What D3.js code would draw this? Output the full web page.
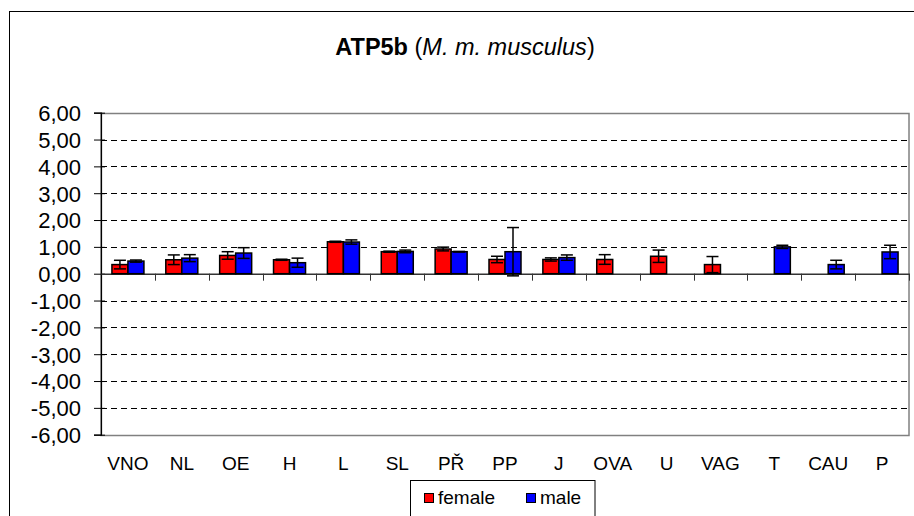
<!DOCTYPE html>
<html><head><meta charset="utf-8">
<script src="https://cdn.jsdelivr.net/npm/d3@7/dist/d3.min.js"></script>
<style>
html,body{margin:0;padding:0;background:#fff;}
svg{display:block;}
text{font-family:Arial,"Liberation Sans",sans-serif;fill:#000;}
</style></head>
<body>
<svg id="chart" width="914" height="516"></svg>
<script>
const categories = ["VNO","NL","OE","H","L","SL","PŘ","PP","J","OVA","U","VAG","T","CAU","P"];
const female    = [0.34,0.52,0.68,0.52,1.19,0.82,0.92,0.53,0.53,0.53,0.65,0.34,null,null,null];
const femaleErr = [0.16,0.18,0.14,0.02,0.02,0.02,0.07,0.12,0.06,0.18,0.23,0.30,null,null,null];
const male      = [0.47,0.58,0.77,0.41,1.18,0.83,0.82,0.82,0.60,null,null,null,1.00,0.34,0.81];
const maleErr   = [0.04,0.13,0.20,0.17,0.08,0.05,0.01,0.90,0.10,null,null,null,0.06,0.16,0.25];
const yTicks = [-6,-5,-4,-3,-2,-1,0,1,2,3,4,5,6];
const seriesNames = ["female","male"];
const seriesColors = ["#FF0000","#0000FF"];

const svg = d3.select("#chart");
const pLeft = 101, pRight = 909, pTop = 112.7, pBottom = 434.7;

// outer chart border
svg.append("rect").attr("x",9.5).attr("y",11.5).attr("width",930).attr("height",540)
  .attr("fill","none").attr("stroke","#000").attr("stroke-width",1);

// title
const title = svg.append("text").attr("x",465).attr("y",55).attr("text-anchor","middle")
  .style("font-size","23.5px");
title.append("tspan").attr("font-weight","bold").text("ATP5b");
title.append("tspan").text(" (");
title.append("tspan").attr("font-style","italic").text("M. m. musculus");
title.append("tspan").text(")");

const x = d3.scaleBand().domain(categories).range([pLeft,pRight]).paddingInner(0).paddingOuter(0);
const y = d3.scaleLinear().domain([-6,6]).range([pBottom,pTop]);
const barW = 16;

// gridlines
svg.append("g").selectAll("line").data(yTicks.filter(v=>v!==6 && v!==-6 && v!==0)).join("line")
  .attr("x1",pLeft).attr("x2",pRight)
  .attr("y1",d=>Math.round(y(d))+0.5).attr("y2",d=>Math.round(y(d))+0.5)
  .attr("stroke","#000").attr("stroke-width",1).attr("stroke-dasharray","6,4");

// plot border (gray)
svg.append("rect").attr("x",pLeft).attr("y",Math.round(pTop)+0.5).attr("width",pRight-pLeft)
  .attr("height",Math.round(pBottom)-Math.round(pTop))
  .attr("fill","none").attr("stroke","#808080").attr("stroke-width",1.5);

// y axis
const yAxis = d3.axisLeft(y).tickValues(yTicks).tickSize(7).tickPadding(13)
  .tickFormat(d=>d3.format(".2f")(d).replace(".",",").replace("−","-"));
const gy = svg.append("g").attr("transform",`translate(${pLeft},0)`).call(yAxis);
gy.select(".domain").attr("stroke","#000").attr("stroke-width",1.2);
gy.selectAll(".tick line").attr("stroke","#000").attr("x2",-7).attr("x1",4);
gy.selectAll("text").style("font-size","22px").attr("fill","#000").attr("dy","0.36em");

// x axis at zero
const y0 = y(0);
const xAxis = d3.axisBottom(x).tickSize(0).tickFormat(d=>d);
const gx = svg.append("g").attr("transform",`translate(0,${y0})`).call(xAxis);
gx.select(".domain").attr("stroke","#333").attr("stroke-width",1.5);
gx.selectAll(".tick text").attr("y",457-y0).style("font-size","19px").attr("fill","#000");
// boundary ticks
svg.append("g").selectAll("line").data(d3.range(1, categories.length + 1)).join("line")
  .attr("x1",i=>Math.round(pLeft + i*x.bandwidth())+0.5).attr("x2",i=>Math.round(pLeft + i*x.bandwidth())+0.5)
  .attr("y1",y0).attr("y2",y0+7).attr("stroke","#333").attr("stroke-width",1);

// bars
const series = [female, male];
const errs = [femaleErr, maleErr];
series.forEach((vals, s) => {
  const data = categories.map((c,i)=>({c, v: vals[i], e: errs[s][i]})).filter(d=>d.v!=null);
  const g = svg.append("g");
  const bx = d => x(d.c) + x.bandwidth()/2 + (s===0 ? -barW : 0);
  g.selectAll("rect").data(data).join("rect")
    .attr("x",bx).attr("width",barW)
    .attr("y",d=>y(Math.max(0,d.v))).attr("height",d=>Math.abs(y(d.v)-y0))
    .attr("fill",seriesColors[s]).attr("stroke","#000").attr("stroke-width",1.5);
  const cx = d => bx(d) + barW/2;
  const eg = svg.append("g").attr("stroke","#000").attr("stroke-width",1.5);
  eg.selectAll("line.v").data(data).join("line").attr("class","v")
    .attr("x1",cx).attr("x2",cx).attr("y1",d=>y(d.v+d.e)).attr("y2",d=>y(d.v-d.e));
  eg.selectAll("line.t").data(data).join("line").attr("class","t")
    .attr("x1",d=>cx(d)-6).attr("x2",d=>cx(d)+6).attr("y1",d=>y(d.v+d.e)).attr("y2",d=>y(d.v+d.e));
  eg.selectAll("line.b").data(data).join("line").attr("class","b")
    .attr("x1",d=>cx(d)-6).attr("x2",d=>cx(d)+6).attr("y1",d=>y(d.v-d.e)).attr("y2",d=>y(d.v-d.e));
});

// legend
const lg = svg.append("g");
lg.append("rect").attr("x",410.5).attr("y",480.5).attr("width",184.5).attr("height",60)
  .attr("fill","#fff").attr("stroke","#000").attr("stroke-width",1);
const legX = [424, 526];
seriesNames.forEach((n,i)=>{
  lg.append("rect").attr("x",legX[i]+0.5).attr("y",493.5).attr("width",9).attr("height",9)
    .attr("fill",seriesColors[i]).attr("stroke","#000").attr("stroke-width",1);
  lg.append("text").attr("x",legX[i]+14).attr("y",504).style("font-size","19px").text(n);
});
</script>
</body></html>
